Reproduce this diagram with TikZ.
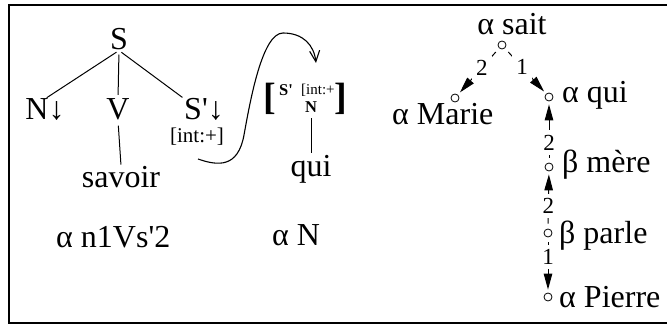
\documentclass[tikz,border=0pt]{standalone}
\usepackage{fontspec}
\setmainfont{Liberation Serif}
\usetikzlibrary{arrows.meta}
\newcommand{\sq}{\textquotesingle}
\begin{document}
\begin{tikzpicture}[x=1pt,y=-1pt,
  big/.style={font=\fontsize{32}{36}\selectfont, inner sep=0pt},
  small/.style={font=\fontsize{21}{24}\selectfont, inner sep=0pt},
  tiny/.style={font=\fontsize{15}{17}\selectfont, inner sep=0pt},
  tinybf/.style={font=\fontsize{16.5}{18}\selectfont\bfseries, inner sep=0pt},
  brack/.style={font=\fontsize{38}{42}\selectfont\bfseries, inner sep=0pt},
  tree/.style={line width=1pt},
  dot/.style={circle, draw, fill=white, minimum size=8pt, inner sep=0pt, line width=0.8pt},
  lab/.style={font=\fontsize{23}{25}\selectfont, fill=white, inner sep=4.5pt},
  der/.style={line width=1pt, -{Triangle[length=16pt,width=8.5pt]}, shorten <=5pt, shorten >=3pt}
]
\useasboundingbox (0,0) rectangle (667,326);
\draw[line width=1.5pt] (700,5) -- (9,5) -- (9,323) -- (700,323);

% elementary tree alpha n1Vs'2
\node[big, anchor=base] (S) at (119,50) {S};
\node[big, anchor=base] (N) at (45,120) {N↓};
\node[big, anchor=base] (V) at (118,120) {V};
\node[big, anchor=base] (Sp) at (196,120) {S\sq\rlap{↓}};
\node[small, anchor=base] (int) at (197,143) {[int:+]};
\node[big, anchor=base] (sav) at (121,187) {savoir};
\draw[tree, shorten <=3pt, shorten >=2pt] (S.south) -- (N.north);
\draw[tree, shorten <=4pt, shorten >=4pt] (S.south) -- (V.north);
\draw[tree, shorten <=3pt, shorten >=2pt] (S.south) -- (Sp.north west);
\draw[tree, shorten <=5pt, shorten >=1pt] (V.south) -- (sav.north);
\node[big, anchor=base west] (a1) at (56,247) {α n1Vs\sq2};

% elementary tree alpha N
\node[brack] (lb) at (270,99) {[};
\node[brack] (rb) at (341,99) {]};
\node[tinybf, anchor=base] (sb) at (286,96) {S\sq};
\node[tiny, anchor=base west] (ib) at (301,95) {[int:+};
\node[tinybf, anchor=base] (nb) at (311,113) {N};
\node[big, anchor=base] (qui) at (311,177) {qui};
\draw[tree, shorten <=5pt, shorten >=3pt] (nb.south) -- (qui.north);
\node[big, anchor=base west] (a2) at (272,245) {α N};

% substitution curve
\coordinate (cs) at (198,159);
\coordinate (ce) at (316,63);
\draw[line width=1.1pt, -{Straight Barb[length=11pt,width=10pt]}]
  (cs) .. controls (218,166) and (238,168) .. (244,135)
       .. controls (250,102) and (262,33) .. (283,33)
       .. controls (303,33) and (314,45) .. (ce);

% derivation tree
\node[dot] (c0) at (502,45) {};
\node[dot] (c1) at (455,98) {};
\node[dot] (c2) at (549,97) {};
\node[dot] (c3) at (549,167) {};
\node[dot] (c4) at (548,233) {};
\node[dot] (c5) at (548,297) {};
\node[big, anchor=base] (t0) at (512,35) {α sait};
\node[big, anchor=base west] (t1) at (392,125) {α Marie};
\node[big, anchor=base west] (t2) at (562,103) {α qui};
\node[big, anchor=base west] (t3) at (562,173) {β mère};
\node[big, anchor=base west] (t4) at (559,243) {β parle};
\node[big, anchor=base west] (t5) at (559,307) {α Pierre};
\draw[der] (c0) -- node[lab, pos=0.42] {2} (c1);
\draw[der] (c0) -- node[lab, pos=0.42] {1} (c2);
\draw[der] (c3) -- node[lab, pos=0.33] {2} (c2);
\draw[der] (c4) -- node[lab, pos=0.40] {2} (c3);
\draw[der] (c4) -- node[lab, pos=0.36] {1} (c5);
\end{tikzpicture}
\end{document}
